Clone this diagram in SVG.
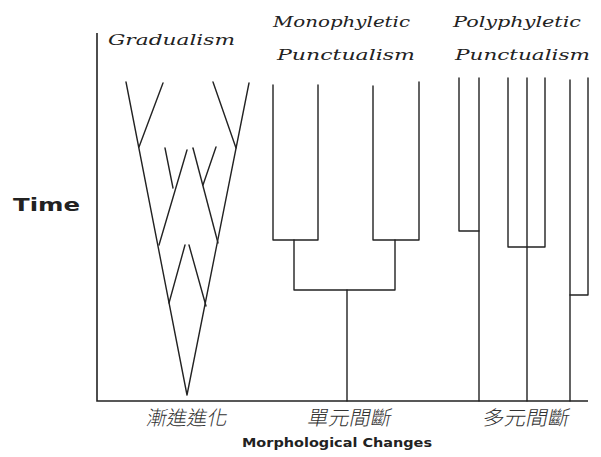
<svg xmlns="http://www.w3.org/2000/svg" width="601" height="457" viewBox="0 0 601 457">
<style>
.ln{stroke:#222;stroke-width:1.4;fill:none;stroke-linecap:round;stroke-linejoin:round}
.ax{stroke:#222;stroke-width:1.6;fill:none}
.hd{font-family:"DejaVu Serif","Liberation Serif",serif;font-style:italic;font-size:15px;fill:#222}
.cj{font-family:"Noto Sans CJK TC","Noto Sans CJK SC",sans-serif;font-size:20px;fill:#333;font-weight:300}
.bd{font-family:"DejaVu Sans","Liberation Sans",sans-serif;font-weight:bold;fill:#222}
</style>
<rect width="601" height="457" fill="#fff"/>
<g id="axes">
<path class="ax" d="M97,33 V401 H588"/>
<text class="bd" x="13" y="211" font-size="17" textLength="67" lengthAdjust="spacingAndGlyphs">Time</text>
<text class="bd" x="242" y="447" font-size="11.5" textLength="190" lengthAdjust="spacingAndGlyphs">Morphological Changes</text>
</g>
<g id="gradualism">
<text class="hd" x="108" y="45" textLength="127" lengthAdjust="spacingAndGlyphs">Gradualism</text>
<path class="ln" d="M126,82 L187,395 L249,83"/>
<path class="ln" d="M163,83 L139,147"/>
<path class="ln" d="M213,82 L236,148"/>
<path class="ln" d="M165,148 L173,188"/>
<path class="ln" d="M187,150 L159,245"/>
<path class="ln" d="M193,148 L218,243"/>
<path class="ln" d="M216,147 L203,185"/>
<path class="ln" d="M185,245 L169,303"/>
<path class="ln" d="M189,245 L206,306"/>
<text class="cj" x="147" y="425" transform="translate(0,418) skewX(-12) translate(0,-418)" textLength="81" lengthAdjust="spacingAndGlyphs">漸進進化</text>
</g>
<g id="monophyletic">
<text class="hd" x="273" y="27" textLength="137" lengthAdjust="spacingAndGlyphs">Monophyletic</text>
<text class="hd" x="277" y="60" textLength="138" lengthAdjust="spacingAndGlyphs">Punctualism</text>
<path class="ln" d="M273,85 V240 H318 V85"/>
<path class="ln" d="M373,86 V240 H419 V82"/>
<path class="ln" d="M294,240 V290 H395 V240"/>
<path class="ln" d="M347,290 V401"/>
<text class="cj" x="308" y="425" transform="translate(0,418) skewX(-12) translate(0,-418)" textLength="84" lengthAdjust="spacingAndGlyphs">單元間斷</text>
</g>
<g id="polyphyletic">
<text class="hd" x="453" y="27" textLength="128" lengthAdjust="spacingAndGlyphs">Polyphyletic</text>
<text class="hd" x="455" y="60" textLength="135" lengthAdjust="spacingAndGlyphs">Punctualism</text>
<path class="ln" d="M459,78 V231 H479"/>
<path class="ln" d="M479,78 V401"/>
<path class="ln" d="M508,78 V247 H545 V78"/>
<path class="ln" d="M527,78 V401"/>
<path class="ln" d="M570,80 V401"/>
<path class="ln" d="M570,295 H588 V78"/>
<text class="cj" x="483" y="425" transform="translate(0,418) skewX(-12) translate(0,-418)" textLength="87" lengthAdjust="spacingAndGlyphs">多元間斷</text>
</g>
</svg>
